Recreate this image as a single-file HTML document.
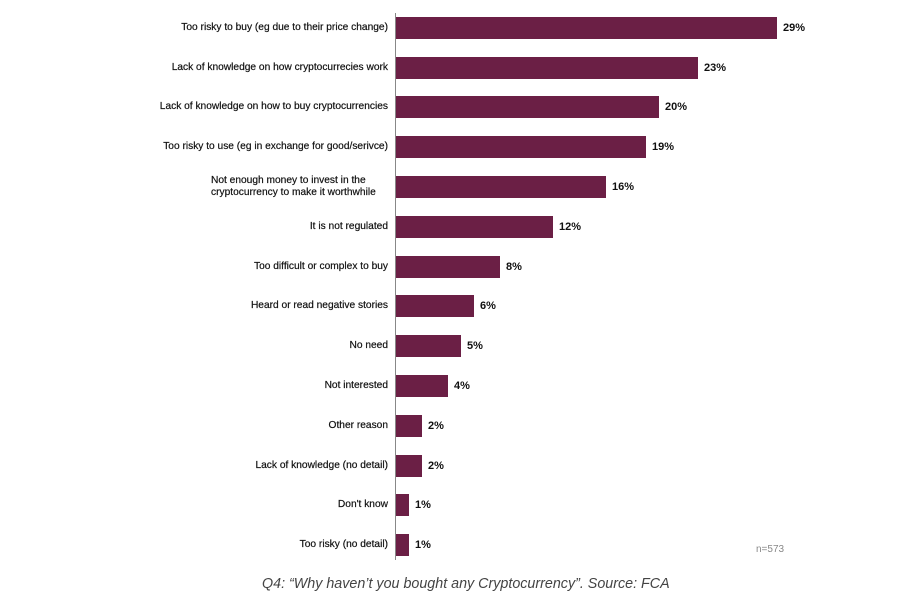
<!DOCTYPE html><html><head><style>
body{margin:0;width:904px;height:603px;background:#fff;position:relative;font-family:"Liberation Sans",sans-serif;overflow:hidden}
.l{position:absolute;right:516px;font-size:10.2px;color:#111;white-space:nowrap;line-height:12px;-webkit-text-stroke:0.2px #111}
.b{position:absolute;left:396px;height:22px;background:#6b1f45}
.v{position:absolute;font-size:11px;font-weight:bold;color:#111;line-height:12px}
</style></head><body>
<div style="position:absolute;left:395px;top:13px;width:1px;height:547px;background:#888"></div>
<div class="l" style="top:22px">Too risky to buy (eg due to their price change)</div><div class="b" style="top:17px;width:381px"></div><div class="v" style="top:22px;left:783px">29%</div>
<div class="l" style="top:62px">Lack of knowledge on how cryptocurrecies work</div><div class="b" style="top:57px;width:302px"></div><div class="v" style="top:62px;left:704px">23%</div>
<div class="l" style="top:101px">Lack of knowledge on how to buy cryptocurrencies</div><div class="b" style="top:96px;width:263px"></div><div class="v" style="top:101px;left:665px">20%</div>
<div class="l" style="top:141px">Too risky to use (eg in exchange for good/serivce)</div><div class="b" style="top:136px;width:250px"></div><div class="v" style="top:141px;left:652px">19%</div>
<div class="l" style="top:175px;right:auto;left:211px;text-align:left">Not enough money to invest in the<br>cryptocurrency to make it worthwhile</div><div class="b" style="top:176px;width:210px"></div><div class="v" style="top:181px;left:612px">16%</div>
<div class="l" style="top:221px">It is not regulated</div><div class="b" style="top:216px;width:157px"></div><div class="v" style="top:221px;left:559px">12%</div>
<div class="l" style="top:261px">Too difficult or complex to buy</div><div class="b" style="top:256px;width:104px"></div><div class="v" style="top:261px;left:506px">8%</div>
<div class="l" style="top:300px">Heard or read negative stories</div><div class="b" style="top:295px;width:78px"></div><div class="v" style="top:300px;left:480px">6%</div>
<div class="l" style="top:340px">No need</div><div class="b" style="top:335px;width:65px"></div><div class="v" style="top:340px;left:467px">5%</div>
<div class="l" style="top:380px">Not interested</div><div class="b" style="top:375px;width:52px"></div><div class="v" style="top:380px;left:454px">4%</div>
<div class="l" style="top:420px">Other reason</div><div class="b" style="top:415px;width:26px"></div><div class="v" style="top:420px;left:428px">2%</div>
<div class="l" style="top:460px">Lack of knowledge (no detail)</div><div class="b" style="top:455px;width:26px"></div><div class="v" style="top:460px;left:428px">2%</div>
<div class="l" style="top:499px">Don't know</div><div class="b" style="top:494px;width:13px"></div><div class="v" style="top:499px;left:415px">1%</div>
<div class="l" style="top:539px">Too risky (no detail)</div><div class="b" style="top:534px;width:13px"></div><div class="v" style="top:539px;left:415px">1%</div>
<div style="position:absolute;left:756px;top:544px;font-size:10px;color:#888">n=573</div>
<div style="position:absolute;left:262px;top:576px;font-size:14.3px;font-style:italic;color:#444;white-space:nowrap">Q4: “Why haven’t you bought any Cryptocurrency”. Source: FCA</div>
</body></html>
